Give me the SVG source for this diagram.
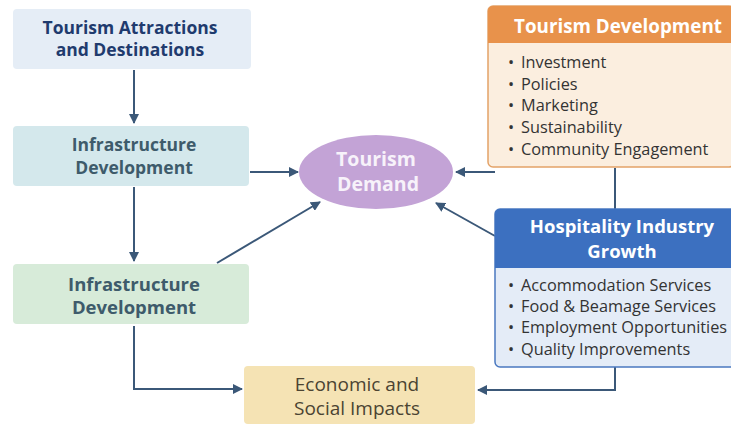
<svg xmlns="http://www.w3.org/2000/svg" width="731" height="427" viewBox="0 0 731 427">
<defs>
<marker id="ah" viewBox="0 0 10 10" refX="9" refY="5" markerWidth="5" markerHeight="5" orient="auto-start-reverse" markerUnits="strokeWidth">
<path d="M0,0 L10,5 L0,10 z" fill="#3b5878"/>
</marker>
<style>
.t{font-family:"Open Sans","Liberation Sans",sans-serif;}
.h{font-weight:bold;font-size:17.5px;text-anchor:middle;}
.b{font-size:16.3px;fill:#333;}
.c{fill:none;stroke:#3b5878;stroke-width:2;}
</style>
</defs>
<rect width="731" height="427" fill="#ffffff"/>
<g id="connectors">
<line class="c" x1="134" y1="70" x2="134" y2="123" marker-end="url(#ah)"/>
<line class="c" x1="134" y1="187" x2="134" y2="261" marker-end="url(#ah)"/>
<line class="c" x1="250" y1="172" x2="298" y2="172" marker-end="url(#ah)"/>
<line class="c" x1="217" y1="263" x2="320" y2="202" marker-end="url(#ah)"/>
<polyline class="c" points="134,326 134,389 242,389" marker-end="url(#ah)"/>
<line class="c" x1="495" y1="172" x2="456" y2="172" marker-end="url(#ah)"/>
<line class="c" x1="615" y1="168" x2="615" y2="209"/>
<line class="c" x1="495" y1="236" x2="436" y2="203" marker-end="url(#ah)"/>
<polyline class="c" points="615,367 615,390 478,390" marker-end="url(#ah)"/>
</g>
<g id="attractions">
<rect x="13" y="9" width="238" height="60" rx="4" fill="#e5edf6"/>
<text class="t h" x="130" y="34" fill="#1f3b6e">Tourism Attractions</text>
<text class="t h" x="130" y="56" fill="#1f3b6e">and Destinations</text>
</g>
<g id="infra1">
<rect x="13" y="126" width="236" height="60" rx="4" fill="#d4e8ec"/>
<text class="t h" x="134" y="151" fill="#3e5b6b">Infrastructure</text>
<text class="t h" x="134" y="174" fill="#3e5b6b">Development</text>
</g>
<g id="infra2">
<rect x="13" y="264" width="236" height="60" rx="4" fill="#d7ebd9"/>
<text class="t h" x="134" y="291" fill="#3e5b6b" style="font-size:18.5px">Infrastructure</text>
<text class="t h" x="134" y="314" fill="#3e5b6b" style="font-size:18.5px">Development</text>
</g>
<g id="demand">
<ellipse cx="376" cy="172" rx="77" ry="37" fill="#c3a3d6"/>
<text class="t h" x="376" y="166" fill="#f7f2fa" style="font-size:19.5px">Tourism</text>
<text class="t h" x="378" y="191" fill="#f7f2fa" style="font-size:19.5px">Demand</text>
</g>
<g id="development">
<rect x="488" y="6" width="246" height="161" rx="5" fill="#fbeedf" stroke="#e4a368" stroke-width="1.5"/>
<path d="M488,43 V11 a5,5 0 0 1 5,-5 H734 V43 z" fill="#e8924b"/>
<text class="t h" x="618" y="33" fill="#ffffff" style="font-size:18.8px">Tourism Development</text>
<text class="t b" x="508" y="68">•</text><text class="t b" x="521" y="68">Investment</text>
<text class="t b" x="508" y="90">•</text><text class="t b" x="521" y="90">Policies</text>
<text class="t b" x="508" y="111">•</text><text class="t b" x="521" y="111">Marketing</text>
<text class="t b" x="508" y="133">•</text><text class="t b" x="521" y="133">Sustainability</text>
<text class="t b" x="508" y="155">•</text><text class="t b" x="521" y="155">Community Engagement</text>
</g>
<g id="hospitality">
<rect x="495" y="209" width="240" height="158" rx="5" fill="#e4ecf7" stroke="#4a78c0" stroke-width="1.5"/>
<path d="M495,268 V214 a5,5 0 0 1 5,-5 H735 V268 z" fill="#3c70c0"/>
<text class="t h" x="622" y="233" fill="#ffffff" style="font-size:18.5px">Hospitality Industry</text>
<text class="t h" x="622" y="258" fill="#ffffff" style="font-size:18.5px">Growth</text>
<text class="t b" x="508" y="291">•</text><text class="t b" x="521" y="291">Accommodation Services</text>
<text class="t b" x="508" y="312">•</text><text class="t b" x="521" y="312">Food &amp; Beamage Services</text>
<text class="t b" x="508" y="333">•</text><text class="t b" x="521" y="333">Employment Opportunities</text>
<text class="t b" x="508" y="355">•</text><text class="t b" x="521" y="355">Quality Improvements</text>
</g>
<g id="impacts">
<rect x="244" y="366" width="231" height="58" rx="4" fill="#f5e3b4"/>
<text class="t" x="357" y="391" font-size="19" text-anchor="middle" fill="#4b4332">Economic and</text>
<text class="t" x="357" y="415" font-size="19" text-anchor="middle" fill="#4b4332">Social Impacts</text>
</g>
</svg>
